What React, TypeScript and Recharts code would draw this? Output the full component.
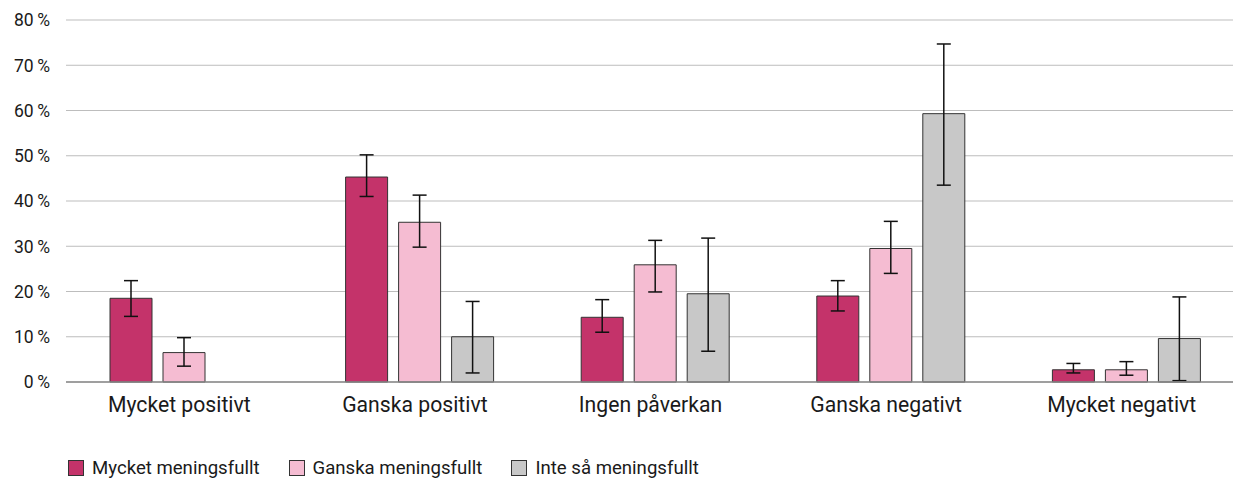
import { BarChart, Bar, XAxis, YAxis, CartesianGrid, ErrorBar } from 'recharts';

// kategorier och serier
const categories = ['Mycket positivt', 'Ganska positivt', 'Ingen påverkan', 'Ganska negativt', 'Mycket negativt'];

const mycket = [18.5, 45.3, 14.3, 19.0, 2.7];
const mycketLow = [14.5, 41.0, 11.0, 15.7, 2.0];
const mycketHigh = [22.4, 50.2, 18.2, 22.4, 4.1];

const ganska = [6.5, 35.3, 25.9, 29.5, 2.7];
const ganskaLow = [3.5, 29.8, 19.9, 24.0, 1.5];
const ganskaHigh = [9.8, 41.3, 31.3, 35.5, 4.5];

const inte = [null, 10.0, 19.5, 59.3, 9.6];
const inteLow = [null, 2.0, 6.8, 43.5, 0.3];
const inteHigh = [null, 17.8, 31.8, 74.7, 18.8];

const yTicks = [0, 10, 20, 30, 40, 50, 60, 70, 80];

const series = [
  { key: 'mm', name: 'Mycket meningsfullt', color: '#c4336a' },
  { key: 'gm', name: 'Ganska meningsfullt', color: '#f5bcd2' },
  { key: 'im', name: 'Inte så meningsfullt', color: '#c8c8c8' },
];

const err = (v: number | null, lo: number | null, hi: number | null) =>
  v == null || lo == null || hi == null ? null : [v - lo, hi - v];

const data = categories.map((c, i) => ({
  category: c,
  mm: mycket[i],
  mmErr: err(mycket[i], mycketLow[i], mycketHigh[i]),
  gm: ganska[i],
  gmErr: err(ganska[i], ganskaLow[i], ganskaHigh[i]),
  im: inte[i],
  imErr: err(inte[i], inteLow[i], inteHigh[i]),
}));

const FONT = 'Roboto, "Noto Sans", sans-serif';

// egna tick-komponenter så att storleken blir rätt
const XTick = (props: any) => {
  const { x, y, payload } = props;
  return (
    <text x={x - 4.5} y={y + 29.5} textAnchor="middle" fontSize={21.2} fontFamily={FONT} fill="#1a1a1a">
      {payload.value}
    </text>
  );
};

const YTick = (props: any) => {
  const { x, y, payload } = props;
  return (
    <text x={x} y={y + 6.3} textAnchor="end" fontSize={17.5} fontFamily={FONT} fill="#1a1a1a">
      {`${payload.value}\u2009%`}
    </text>
  );
};

export default function App() {
  return (
    <div style={{ position: 'fixed', left: 0, top: 0, width: 1233, height: 480, overflow: 'hidden', fontFamily: FONT, background: '#fff' }}>
      <BarChart
        width={1244}
        height={480}
        data={data}
        margin={{ top: 20, right: 0, bottom: 0, left: 0 }}
        barSize={42}
        barGap={11}
      >
        <CartesianGrid vertical={false} stroke="#bdbdbd" strokeWidth={1} />
        <XAxis
          dataKey="category"
          height={98}
          tickLine={false}
          tickSize={0}
          tickMargin={0}
          axisLine={{ stroke: '#8a8a8a', strokeWidth: 1.5 }}
          tick={<XTick />}
          interval={0}
        />
        <YAxis
          width={66}
          domain={[0, 80]}
          ticks={yTicks}
          axisLine={false}
          tickLine={false}
          tickSize={0}
          tickMargin={16}
          tick={<YTick />}
        />
        {series.map((s) => (
          <Bar
            key={s.key}
            dataKey={s.key}
            name={s.name}
            fill={s.color}
            stroke="#333"
            strokeWidth={1}
            isAnimationActive={false}
          >
            <ErrorBar dataKey={`${s.key}Err`} width={7} stroke="#111" strokeWidth={1.5} direction="y" />
          </Bar>
        ))}
      </BarChart>
      <div
        style={{
          position: 'absolute',
          left: 68,
          top: 457,
          height: 22,
          display: 'flex',
          alignItems: 'center',
          fontSize: 18.6,
          lineHeight: '22px',
          color: '#1a1a1a',
          fontFamily: FONT,
        }}
      >
        {series.map((s) => (
          <div key={s.key} style={{ display: 'flex', alignItems: 'center', marginRight: 29 }}>
            <span
              style={{
                display: 'inline-block',
                width: 14,
                height: 14,
                background: s.color,
                border: '1px solid #333',
                marginRight: 8,
              }}
            />
            <span>{s.name}</span>
          </div>
        ))}
      </div>
    </div>
  );
}
